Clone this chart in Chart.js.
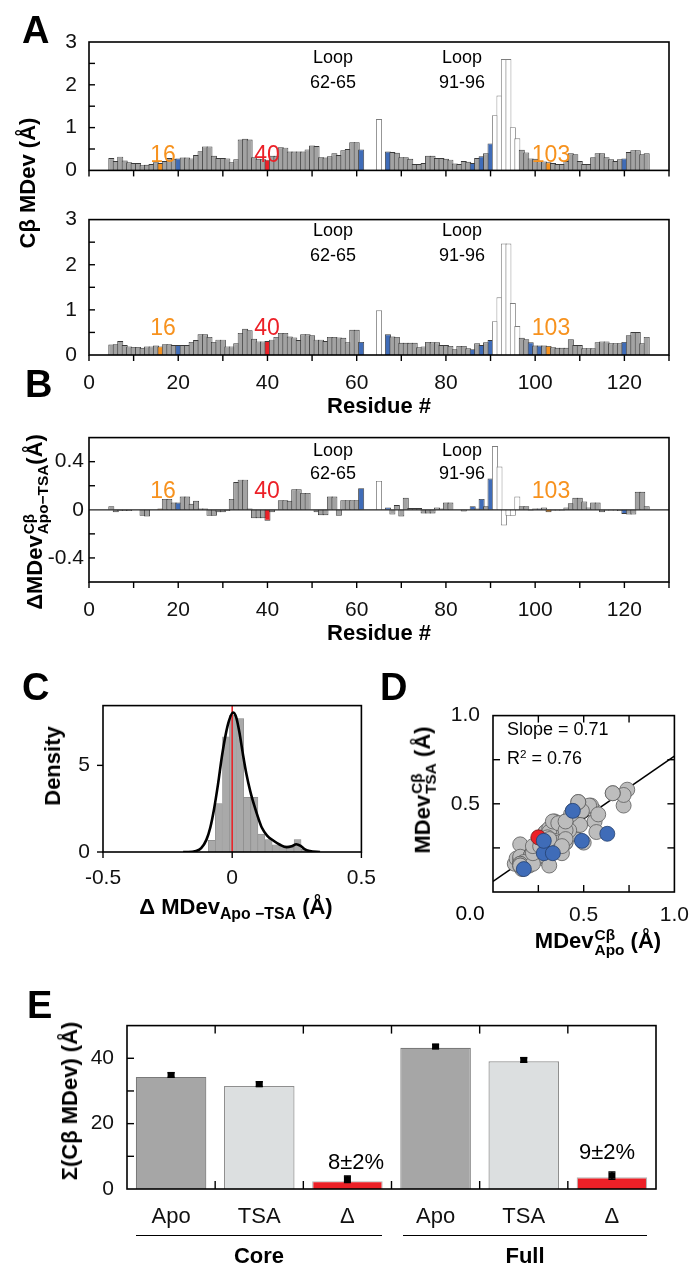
<!DOCTYPE html>
<html><head><meta charset="utf-8">
<script src="https://cdn.jsdelivr.net/npm/chart.js@4.4.1/dist/chart.umd.min.js"></script>
<style>
html,body{margin:0;padding:0;background:#fff;}
body{position:relative;width:696px;height:1268px;overflow:hidden;font-family:'Liberation Sans',Arial,Helvetica,sans-serif;color:#000;}
canvas{position:absolute;}
.t{position:absolute;line-height:1;white-space:nowrap;z-index:5;}
.ss{display:inline-block;vertical-align:-0.42em;font-size:0.7em;line-height:0.92;text-align:left;margin-left:1px;}
.ss span{display:block;}
.sub{font-size:0.72em;vertical-align:-0.32em;line-height:0;}
.sup{font-size:0.65em;vertical-align:0.5em;line-height:0;}
.hl{position:absolute;height:0;border-top:1.5px solid #000;z-index:5;}
</style></head><body>
<script>
// ---------------- DATA ----------------
const residues = [5,6,7,8,9,10,11,12,13,14,15,16,17,18,19,20,21,22,23,24,25,26,27,28,29,30,31,32,33,34,35,36,37,38,39,40,41,42,43,44,45,46,47,48,49,50,51,52,53,54,55,56,57,58,59,60,61,62,63,64,65,66,67,68,69,70,71,72,73,74,75,76,77,78,79,80,81,82,83,84,85,86,87,88,89,90,91,92,93,94,95,96,97,98,99,100,101,102,103,104,105,106,107,108,109,110,111,112,113,114,115,116,117,118,119,120,121,122,123,124,125];
const apoMDev = [0.29,0.22,0.32,0.23,0.19,0.17,0.17,0.12,0.13,0.15,
 0.19,0.17,0.22,0.29,0.27,0.28,0.30,0.30,0.28,0.36,
 0.45,0.56,0.56,0.34,0.29,0.29,0.28,0.19,0.26,0.72,
 0.74,0.72,0.31,0.27,0.26,0.25,0.34,0.34,0.54,0.53,
 0.44,0.44,0.44,0.44,0.49,0.58,0.57,0.31,0.30,0.33,
 0.40,0.36,0.47,0.50,0.66,0.66,0.49,null,null,null,
 1.20,null,0.44,0.43,0.41,0.31,0.31,0.27,0.15,0.15,
 0.17,0.34,0.34,0.29,0.29,0.27,0.25,0.16,0.15,0.22,
 0.20,0.17,0.29,0.33,0.40,0.63,1.29,1.75,2.60,2.60,
 1.01,0.75,0.48,0.42,0.28,0.27,0.21,0.21,0.19,0.17,
 0.15,0.15,0.22,0.40,0.38,0.22,0.15,0.15,0.31,0.40,
 0.40,0.31,0.26,0.22,0.26,0.28,0.43,0.47,0.47,0.38,0.40];
const tsaMDev = [0.23,0.24,0.31,0.22,0.19,0.18,0.18,0.16,0.19,0.19,
 0.21,0.19,0.24,0.24,0.22,0.22,0.22,0.22,0.29,0.33,
 0.46,0.46,0.40,0.29,0.34,0.34,0.19,0.19,0.26,0.49,
 0.58,0.55,0.36,0.30,0.30,0.31,0.34,0.40,0.49,0.49,
 0.41,0.39,0.33,0.46,0.46,0.44,0.34,0.34,0.31,0.40,
 0.40,0.39,0.38,0.28,0.56,0.56,0.29,null,null,null,
 0.99,null,0.46,0.41,0.40,0.27,0.27,0.27,0.27,0.17,
 0.19,0.29,0.28,0.28,0.22,0.22,0.20,0.13,0.20,0.20,
 0.15,0.13,0.26,0.22,0.28,0.33,0.75,1.28,2.47,2.47,
 1.15,0.64,0.38,0.35,0.28,0.21,0.21,0.21,0.20,0.17,
 0.16,0.16,0.16,0.35,0.22,0.22,0.15,0.15,0.15,0.28,
 0.30,0.30,0.26,0.26,0.26,0.29,0.44,0.51,0.51,0.26,0.40];
const deltaMDev = [0.03,-0.02,-0.01,-0.01,-0.01,0.00,0.00,-0.05,-0.055,0.00,
 0.00,0.01,0.09,0.09,0.06,0.06,0.11,0.11,0.05,0.075,
 0.01,0.01,-0.05,-0.05,-0.02,-0.02,-0.01,0.09,0.23,0.25,
 0.25,0.01,-0.07,-0.07,-0.07,-0.09,-0.02,0.00,0.08,0.08,
 0.075,0.17,0.17,0.14,0.14,0.00,-0.02,-0.045,-0.045,0.11,
 0.11,-0.05,0.08,0.08,0.08,0.08,0.18,null,null,null,
 0.24,null,0.02,-0.04,0.04,-0.055,0.10,0.015,0.015,0.015,
 -0.03,-0.03,-0.03,0.02,0.01,0.06,0.06,0.00,0.00,-0.015,
 0.00,0.03,0.01,0.09,0.03,0.26,0.53,0.36,-0.13,-0.05,
 -0.05,0.11,0.03,0.03,-0.005,0.01,0.01,0.02,-0.02,-0.005,
 -0.005,-0.005,0.02,0.055,0.10,0.10,0.07,0.02,0.06,0.06,
 -0.02,-0.005,-0.005,-0.005,-0.01,-0.035,-0.04,-0.04,0.15,0.15,0.03];
const loopResidues = [62,63,64,65,91,92,93,94,95,96];
const redResidues = [40];
const orangeResidues = [16,103];
const blueResiduesApo = [20,61,67,86,88,90,120];
const blueResiduesTsa = [20,61,67,86,88,90,99,101,120];
const blueResiduesDelta = [20,61,67,86,88,90,99,101,120];

const histCenters = [-0.079,-0.052,-0.024,0.003,0.031,0.058,0.086,0.113,0.141,0.169,0.197,0.225,0.253,0.281];
const histDensity = [0.67,2.8,6.65,7.9,7.7,3.15,3.15,1.03,0.72,0.41,0.36,0.27,0.72,0.15];
const kdeX = [-0.19,-0.17,-0.14,-0.12,-0.1,-0.085,-0.07,-0.055,-0.04,-0.025,-0.012,0.003,0.015,0.028,0.042,0.055,0.07,0.085,0.1,0.115,0.135,0.16,0.185,0.21,0.23,0.248,0.265,0.28,0.3,0.34];
const kdeY = [0,0,0.06,0.22,0.7,1.4,2.5,3.9,5.5,6.8,7.6,8.05,7.8,6.9,5.6,4.5,3.5,2.7,2.0,1.4,0.95,0.65,0.42,0.28,0.33,0.45,0.35,0.17,0.05,0];
const densityMax = 8.45;

const fitLineX = [0, 1];
const fitLineY = [0.06, 0.77];

const eCategories = ['Apo','TSA','Δ','Apo','TSA','Δ'];
const eValues = [34.3, 31.5, 2.4, 43.2, 39.1, 3.6];
const eErrMean = [34.9, 32.1, 3.0, 43.6, 39.5, 4.1];
const eErrHalf = [0.7, 0.7, 1.0, 0.6, 0.7, 1.1];

// ---------------- STYLE ----------------
const GRAY='#a3a3a3', BLUE='#3f6cb8', RED='#ec2027', ORANGE='#f7921e';
Chart.defaults.font.family = "'Liberation Sans', Arial, Helvetica, sans-serif";
Chart.defaults.font.size = 21;
Chart.defaults.color = '#111';

const framePlug = {id:'frame', afterDatasetsDraw(chart, args, o){
  const {ctx, chartArea:a, scales} = chart; const x=scales.x, y=scales.y;
  ctx.save();
  const seg=(x1,y1,x2,y2)=>{ctx.beginPath();ctx.moveTo(x1,y1);ctx.lineTo(x2,y2);ctx.stroke();};
  if(o.zero){ const py=y.getPixelForValue(0); ctx.strokeStyle='#222'; ctx.lineWidth=1.2; seg(a.left,py,a.right,py); }
  ctx.strokeStyle='#000'; ctx.lineWidth=o.lw||1.6;
  ctx.strokeRect(a.left,a.top,a.right-a.left,a.bottom-a.top);
  ctx.lineWidth=1.4; const L=o.len||6;
  (o.x||[]).forEach(s=>{ s.vals.forEach(v=>{ const p=x.getPixelForValue(v); const y0=s.side==='top'?a.top:a.bottom; const d=(s.side==='top'?-1:1)*(s.out?1:-1)*L; seg(p,y0,p,y0+d); }); });
  (o.y||[]).forEach(s=>{ s.vals.forEach(v=>{ const p=y.getPixelForValue(v); const x0=s.side==='right'?a.right:a.left; const d=(s.side==='right'?1:-1)*(s.out?1:-1)*L; seg(x0,p,x0+d,p); }); });
  if(o.cat){ const n=chart.data.labels.length; for(let i=1;i<n;i++){ const p=(x.getPixelForValue(i-1)+x.getPixelForValue(i))/2; seg(p,a.top,p,a.top+o.cat); seg(p,a.bottom,p,a.bottom-o.cat);} }
  ctx.restore();
}};
const errPlug = {id:'errbars', afterDatasetsDraw(chart, args, o){
  if(!o.mean) return;
  const {ctx, scales:{x,y}} = chart; ctx.save(); ctx.strokeStyle='#000'; ctx.fillStyle='#000'; ctx.lineWidth=1.5;
  o.mean.forEach((m,i)=>{ const px=x.getPixelForValue(i); const y1=y.getPixelForValue(m-o.half[i]), y2=y.getPixelForValue(m+o.half[i]);
    ctx.beginPath(); ctx.moveTo(px,y1); ctx.lineTo(px,y2); ctx.moveTo(px-3.5,y1); ctx.lineTo(px+3.5,y1); ctx.moveTo(px-3.5,y2); ctx.lineTo(px+3.5,y2); ctx.stroke();
    const ym=y.getPixelForValue(m); ctx.fillRect(px-3.5,ym-3,7,6); });
  ctx.restore();
}};

function chartAt(left, top, w, h, box, cfg){
  const c=document.createElement('canvas'); c.width=w; c.height=h;
  c.style.left=left+'px'; c.style.top=top+'px'; c.style.width=w+'px'; c.style.height=h+'px';
  document.body.appendChild(c);
  const mT=box.t-top, mR=left+w-box.r, mL=box.l-left, mB=top+h-box.b;
  const o=cfg.options;
  o.layout={padding:{top:mT,right:mR,left:0,bottom:0}};
  o.scales.x.afterFit=s=>{s.height=mB;};
  o.scales.y.afterFit=s=>{s.width=mL;};
  o.responsive=false; o.animation=false; o.devicePixelRatio=1;
  o.plugins=Object.assign({legend:{display:false},tooltip:{enabled:false}}, o.plugins||{});
  cfg.plugins=[errPlug, framePlug];
  return new Chart(c, cfg);
}
const noGrid = {display:false, drawTicks:false};
const noBorder = {display:false};

function colorFor(r, blueSet){
  if(loopResidues.includes(r)) return '#ffffff';
  if(redResidues.includes(r)) return RED;
  if(orangeResidues.includes(r)) return ORANGE;
  if(blueSet.includes(r)) return BLUE;
  return GRAY;
}
function residueBars(values, blueSet){
  return {type:'bar', data: residues.map((r,i)=>({x:r, y:values[i]})),
    backgroundColor: residues.map(r=>colorFor(r,blueSet)),
    borderColor: residues.map(r=>loopResidues.includes(r)?'#7d7d7d':'#3a3a3a'),
    borderWidth: 0.9, barPercentage: 1.35, categoryPercentage: 1};
}
const xTickVals = [0,10,20,30,40,50,60,70,80,90,100,110,120,130];
function residueX(showLabels){
  return {type:'linear', min:0, max:130, offset:false, grid:noGrid, border:noBorder,
    ticks:{display:showLabels, stepSize:10, autoSkip:false, maxRotation:0, padding:16, callback:v=>v%20===0?String(v):''}};
}

// Panel A (Apo)
chartAt(0, 0, 696, 195, {l:89,t:42,r:669,b:186}, {
  type:'bar', data:{datasets:[residueBars(apoMDev, blueResiduesApo)]},
  options:{scales:{x:residueX(false),
    y:{min:0,max:3,grid:noGrid,border:noBorder,ticks:{stepSize:0.5,autoSkip:false,padding:12,callback:v=>Number.isInteger(v)?String(v):''}}},
    plugins:{frame:{x:[{side:'bottom',out:true,vals:xTickVals}], y:[{side:'left',out:false,vals:[0.5,1,1.5,2,2.5]}], len:6}}}
});
// Panel A (TSA)
chartAt(0, 195, 696, 205, {l:89,t:211,r:669,b:355}, {
  type:'bar', data:{datasets:[residueBars(tsaMDev, blueResiduesTsa)]},
  options:{scales:{x:residueX(true),
    y:{min:0,max:3,grid:noGrid,border:noBorder,ticks:{stepSize:0.5,autoSkip:false,padding:12,callback:v=>Number.isInteger(v)?String(v):''}}},
    plugins:{frame:{x:[{side:'bottom',out:true,vals:xTickVals}], y:[{side:'left',out:false,vals:[0.5,1,1.5,2,2.5]}], len:6}}}
});
// Panel B (delta)
chartAt(0, 420, 696, 215, {l:89,t:437,r:669,b:582}, {
  type:'bar', data:{datasets:[residueBars(deltaMDev, blueResiduesDelta)]},
  options:{scales:{x:residueX(true),
    y:{min:-0.6,max:0.6,grid:noGrid,border:noBorder,ticks:{stepSize:0.2,autoSkip:false,padding:5,callback:v=>{const r=Math.round(v*10)/10; return (r===0)?'0':(Math.abs(r)===0.4?String(r):'');}}}},
    plugins:{frame:{zero:true, x:[{side:'bottom',out:true,vals:xTickVals}], y:[{side:'left',out:false,vals:[-0.4,-0.2,0.2,0.4]}], len:6}}}
});
// Panel C (density)
chartAt(0, 680, 390, 215, {l:103,t:695,r:368,b:852}, {
  type:'bar', data:{datasets:[
    {type:'line', data:kdeX.map((v,i)=>({x:v,y:kdeY[i]})), borderColor:'#000', borderWidth:2.6, pointRadius:0, cubicInterpolationMode:'monotone', order:0},
    {type:'line', data:[{x:0,y:0},{x:0,y:densityMax}], borderColor:'#e8262b', borderWidth:1.6, pointRadius:0, order:1},
    {type:'bar', data:histCenters.map((v,i)=>({x:v,y:histDensity[i]})), backgroundColor:'#a9a9a9', borderColor:'#8a8a8a', borderWidth:0.6, barPercentage:1, categoryPercentage:1, order:2}
  ]},
  options:{scales:{
    x:{type:'linear',min:-0.5,max:0.5,offset:false,grid:noGrid,border:noBorder,ticks:{stepSize:0.5,autoSkip:false,maxRotation:0,padding:14,callback:v=>String(v)}},
    y:{min:0,max:densityMax,grid:noGrid,border:noBorder,ticks:{stepSize:5,includeBounds:false,padding:13,callback:v=>(v===0||v===5)?String(v):''}}},
    plugins:{frame:{x:[{side:'bottom',out:true,vals:[-0.5,0,0.5]}], y:[{side:'left',out:true,vals:[0,5]}], len:6}}}
});
// Panel D (scatter) built from the residue arrays
const ptsGray=[], ptsBlue=[], ptsRed=[], ptsOrange=[];
residues.forEach((r,i)=>{
  if(loopResidues.includes(r) || apoMDev[i]==null || tsaMDev[i]==null) return;
  const p={x:apoMDev[i], y:tsaMDev[i]};
  if(redResidues.includes(r)) ptsRed.push(p);
  else if(orangeResidues.includes(r)) ptsOrange.push(p);
  else if(blueResiduesApo.includes(r)) ptsBlue.push(p);
  else ptsGray.push(p);
});
const q=[0.25,0.5,0.75];
chartAt(380, 690, 320, 240, {l:493,t:705,r:680,b:892}, {
  type:'scatter', data:{datasets:[
    {data:ptsBlue, backgroundColor:BLUE, borderColor:'#24406e', borderWidth:0.8, pointRadius:7.5, order:0},
    {data:ptsRed, backgroundColor:RED, borderColor:'#6e1a1a', borderWidth:0.8, pointRadius:7.5, order:1},
    {data:ptsGray, backgroundColor:'#bdbdbd', borderColor:'#5c5c5c', borderWidth:0.8, pointRadius:7.5, order:2},
    {data:ptsOrange, backgroundColor:ORANGE, borderColor:'#6e4a1a', borderWidth:0.8, pointRadius:7.5, order:3},
    {type:'line', data:fitLineX.map((v,i)=>({x:v,y:fitLineY[i]})), borderColor:'#000', borderWidth:1.6, pointRadius:0, showLine:true, order:4}
  ]},
  options:{scales:{
    x:{type:'linear',min:0,max:1,grid:noGrid,border:noBorder,ticks:{stepSize:0.25,autoSkip:false,maxRotation:0,padding:11,callback:v=>v===0.5?'0.5':(v===1?'1.0':'')}},
    y:{min:0,max:1,grid:noGrid,border:noBorder,ticks:{stepSize:0.25,padding:13,callback:v=>v===0.5?'0.5':(v===1?'1.0':'')}}},
    plugins:{frame:{x:[{side:'bottom',out:false,vals:q},{side:'top',out:false,vals:q}], y:[{side:'left',out:false,vals:q},{side:'right',out:false,vals:q}], len:7}}}
});
// Panel E
chartAt(0, 1000, 696, 240, {l:127,t:1017,r:656,b:1189}, {
  type:'bar', data:{labels:eCategories, datasets:[{data:eValues,
    backgroundColor:['#a6a6a6','#dcdfe0',RED,'#a6a6a6','#dcdfe0',RED],
    borderColor:['#7a7a7a','#8f8f8f','#b5b5b5','#7a7a7a','#8f8f8f','#b5b5b5'], borderWidth:1.2,
    barPercentage:0.8, categoryPercentage:1}]},
  options:{scales:{
    x:{type:'category',offset:true,grid:noGrid,border:noBorder,ticks:{padding:15,font:{size:22}}},
    y:{min:0,max:50,grid:noGrid,border:noBorder,ticks:{stepSize:10,padding:13,callback:v=>v%20===0?String(v):''}}},
    plugins:{frame:{y:[{side:'left',out:false,vals:[10,20,30,40]}], cat:8, len:7}, errbars:{mean:eErrMean, half:eErrHalf}}}
});

// ---------------- TEXT ----------------
function T(html, x, base, size, o={}){
  const d=document.createElement('div'); d.className='t'; d.innerHTML=html;
  d.style.fontSize=size+'px'; d.style.top=(base-0.8465*size)+'px'; d.style.left=x+'px';
  d.style.color=o.color||'#000'; if(o.bold) d.style.fontWeight='bold';
  if(o.align!=='left') d.style.transform='translateX(-50%)';
  document.body.appendChild(d); return d;
}
function R(html, cx, cy, size){
  const d=document.createElement('div'); d.className='t'; d.innerHTML=html;
  d.style.fontSize=size+'px'; d.style.fontWeight='bold'; d.style.left=cx+'px'; d.style.top=cy+'px';
  d.style.transform='translate(-50%,-50%) rotate(-90deg)';
  document.body.appendChild(d); return d;
}
// panel letters
T('A',22,43,38,{bold:true,align:'left'});
T('B',25,397,38,{bold:true,align:'left'});
T('C',22,700,38,{bold:true,align:'left'});
T('D',380,700,38,{bold:true,align:'left'});
T('E',27,1018,38,{bold:true,align:'left'});
// loops and residue numbers
[[63,88],[236,261],[456,479]].forEach(([b1,b2])=>{
  T('Loop',333,b1,18); T('62-65',333,b2,18); T('Loop',462,b1,18); T('91-96',462,b2,18);
});
[162,335,498].forEach(b=>{
  T('16',163,b,23,{color:ORANGE}); T('40',267,b,23,{color:RED}); T('103',551,b,23,{color:ORANGE});
});
// axis titles
R('Cβ MDev (Å)',28,183,22);
T('Residue #',379,414,22,{bold:true});
T('Residue #',379,641,22,{bold:true});
R('ΔMDev<span class="ss"><span>Cβ</span><span>Apo−TSA</span></span>(Å)',36,522,22);
R('Density',53,766,22);
T('Δ MDev<span class="sub">Apo −TSA</span> (Å)',236,915,22,{bold:true});
R('MDev<span class="ss"><span>Cβ</span><span>TSA</span></span> (Å)',424,790,22);
T('MDev<span class="ss"><span>Cβ</span><span>Apo</span></span> (Å)',598,947,22,{bold:true});
T('0.0',470,920,21);
T('Slope = 0.71',507,735,18,{align:'left'});
T('R<span class="sup">2</span> = 0.76',507,764,18,{align:'left'});
R('Σ(Cβ MDev) (Å)',70,1101,22);
T('8±2%',356,1170,22);
T('9±2%',607,1160,22);
// group labels
[[136,382,'Core'],[403,647,'Full']].forEach(([a,b,s])=>{
  const l=document.createElement('div'); l.className='hl'; l.style.left=a+'px'; l.style.top='1235px'; l.style.width=(b-a)+'px'; document.body.appendChild(l);
  T(s,(a+b)/2,1264,22,{bold:true});
});
</script>
</body></html>
